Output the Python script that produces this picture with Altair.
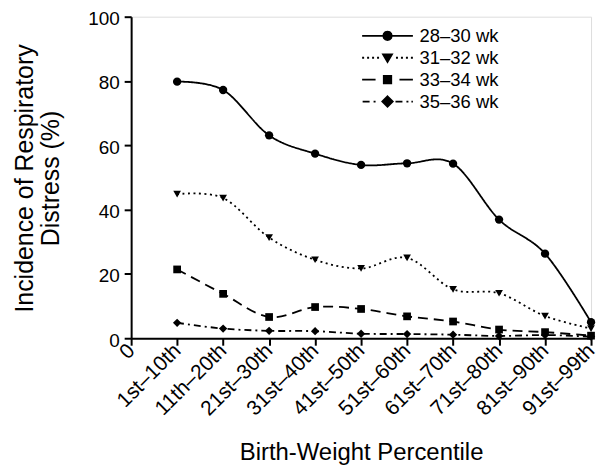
import altair as alt
import pandas as pd

categories = ["0", "1st–10th", "11th–20th", "21st–30th", "31st–40th", "41st–50th",
              "51st–60th", "61st–70th", "71st–80th", "81st–90th", "91st–99th"]
data_cats = categories[1:]
series_names = ["28–30 wk", "31–32 wk", "33–34 wk", "35–36 wk"]
s28_30 = [79.8, 77.2, 63.1, 57.4, 53.9, 54.4, 54.3, 36.9, 26.3, 5.0]
s31_32 = [44.8, 43.6, 31.3, 24.4, 21.7, 25.0, 15.2, 14.0, 6.9, 3.0]
s33_34 = [21.4, 13.8, 6.6, 9.7, 9.1, 6.8, 5.2, 2.7, 1.9, 0.8]
s35_36 = [4.8, 3.0, 2.3, 2.2, 1.4, 1.3, 1.1, 0.7, 1.0, 0.5]
y_ticks = [0, 20, 40, 60, 80, 100]

marker_shapes = ["circle", "triangle-down", "square", "diamond"]
marker_sizes = [70, 60, 60, 70]
dash_styles = [[1, 0], [2, 3.5], [10, 6], [7, 4, 2, 4]]
legend_paths = [
    "M-5.1 0L5.1 0"
    "M0.85 0L0.74 0.43L0.43 0.74L0 0.85L-0.43 0.74L-0.74 0.43L-0.85 0"
    "L-0.74 -0.43L-0.43 -0.74L0 -0.85L0.43 -0.74L0.74 -0.43Z",
    "M-5.1 0L-4.7 0M-4.1 0L-3.7 0M-3.1 0L-2.7 0M-2.1 0L-1.7 0"
    "M1.7 0L2.1 0M2.7 0L3.1 0M3.7 0L4.1 0M4.7 0L5.1 0"
    "M-0.9 -0.7L0.9 -0.7L0 0.85Z",
    "M-5.1 0L-2.4 0M2.4 0L5.1 0M-0.75 -0.75L0.75 -0.75L0.75 0.75L-0.75 0.75Z",
    "M-5 0L-3.6 0M-2.8 0L-2.4 0M1.6 0L3 0M3.8 0L4.2 0M4.8 0L5.1 0"
    "M0 -1.05L1.05 0L0 1.05L-1.05 0Z",
]

rows = []
for name, vals in zip(series_names, [s28_30, s31_32, s33_34, s35_36]):
    for c, v in zip(data_cats, vals):
        rows.append({"cat": c, "val": v, "series": name})
df = pd.DataFrame(rows)

legend_kw = dict(title=None, orient="none", legendX=248.3, legendY=10,
                 labelFontSize=18.5, labelOffset=23, labelColor="black",
                 rowPadding=3, symbolStrokeWidth=1.8, symbolSize=100,
                 symbolOpacity=1, padding=0)
sym_style = {"stroke": {"value": "black"}, "fill": {"value": "black"},
             "strokeWidth": {"value": 1.8}, "strokeOpacity": {"value": 1},
             "fillOpacity": {"value": 1}}
legend_obj = None
for extra in ({"encode": {"symbols": {"update": sym_style}}},
              {"encode": {"symbols": sym_style}},
              {}):
    try:
        cand = alt.Legend(**legend_kw, **extra)
        alt.Chart(df).mark_point().encode(
            shape=alt.Shape("series:N", legend=cand)).to_dict()
        legend_obj = cand
        break
    except Exception:
        continue

x_enc = alt.X("cat:N", sort=categories,
              scale=alt.Scale(domain=categories, type="point", padding=0),
              axis=alt.Axis(title="Birth-Weight Percentile", labelAngle=-45,
                            labelAlign="right", labelBaseline="middle",
                            labelFontSize=21, labelPadding=2, titleFontSize=24,
                            titleFontWeight="normal", titleBaseline="alphabetic",
                            titleY=122,
                            tickSize=7, tickWidth=2, domainWidth=2,
                            domainColor="black", tickColor="black",
                            labelColor="black", titleColor="black", grid=False))
y_enc = alt.Y("val:Q", scale=alt.Scale(domain=[0, 100], nice=False),
              axis=alt.Axis(title=["Incidence of Respiratory", "Distress (%)"],
                            values=y_ticks, labelFontSize=19, labelPadding=5,
                            labelOffset=2,
                            titleFontSize=25, titleFontWeight="normal",
                            titleLineHeight=26, titleBaseline="alphabetic",
                            titleX=-99, titleY=162, titleAngle=-90,
                            tickSize=7, tickWidth=2, domainWidth=2,
                            domainColor="black", tickColor="black",
                            labelColor="black", titleColor="black", grid=False))

lines = alt.Chart(df).mark_line(interpolate="cardinal", color="black",
                                strokeWidth=1.8).encode(
    x=x_enc, y=y_enc,
    strokeDash=alt.StrokeDash("series:N",
                              scale=alt.Scale(domain=series_names, range=dash_styles),
                              legend=None),
)

point_layers = []
for name, shp, sz in zip(series_names, marker_shapes, marker_sizes):
    point_layers.append(
        alt.Chart(df).transform_filter(alt.datum.series == name).mark_point(
            filled=True, color="black", size=sz, opacity=1, shape=shp
        ).encode(x=x_enc, y=y_enc)
    )

legend_layer = alt.Chart(df).transform_filter("false").mark_point(
    filled=False, fill="black", stroke="black", strokeWidth=1.8, size=100,
    opacity=1, fillOpacity=1, strokeOpacity=1
).encode(
    x=x_enc, y=y_enc,
    shape=alt.Shape("series:N",
                    scale=alt.Scale(domain=series_names, range=legend_paths),
                    legend=legend_obj),
)

chart = alt.layer(lines, *point_layers, legend_layer).resolve_scale(
    shape="independent"
).properties(
    width=462, height=323,
    autosize=alt.AutoSizeParams(type="none"),
    padding={"left": 123.7, "top": 7.7, "right": 8, "bottom": 126},
).configure_view(stroke=None).configure(font="Liberation Sans")

chart.save("out.html", embed_options={"renderer": "svg", "actions": False})
